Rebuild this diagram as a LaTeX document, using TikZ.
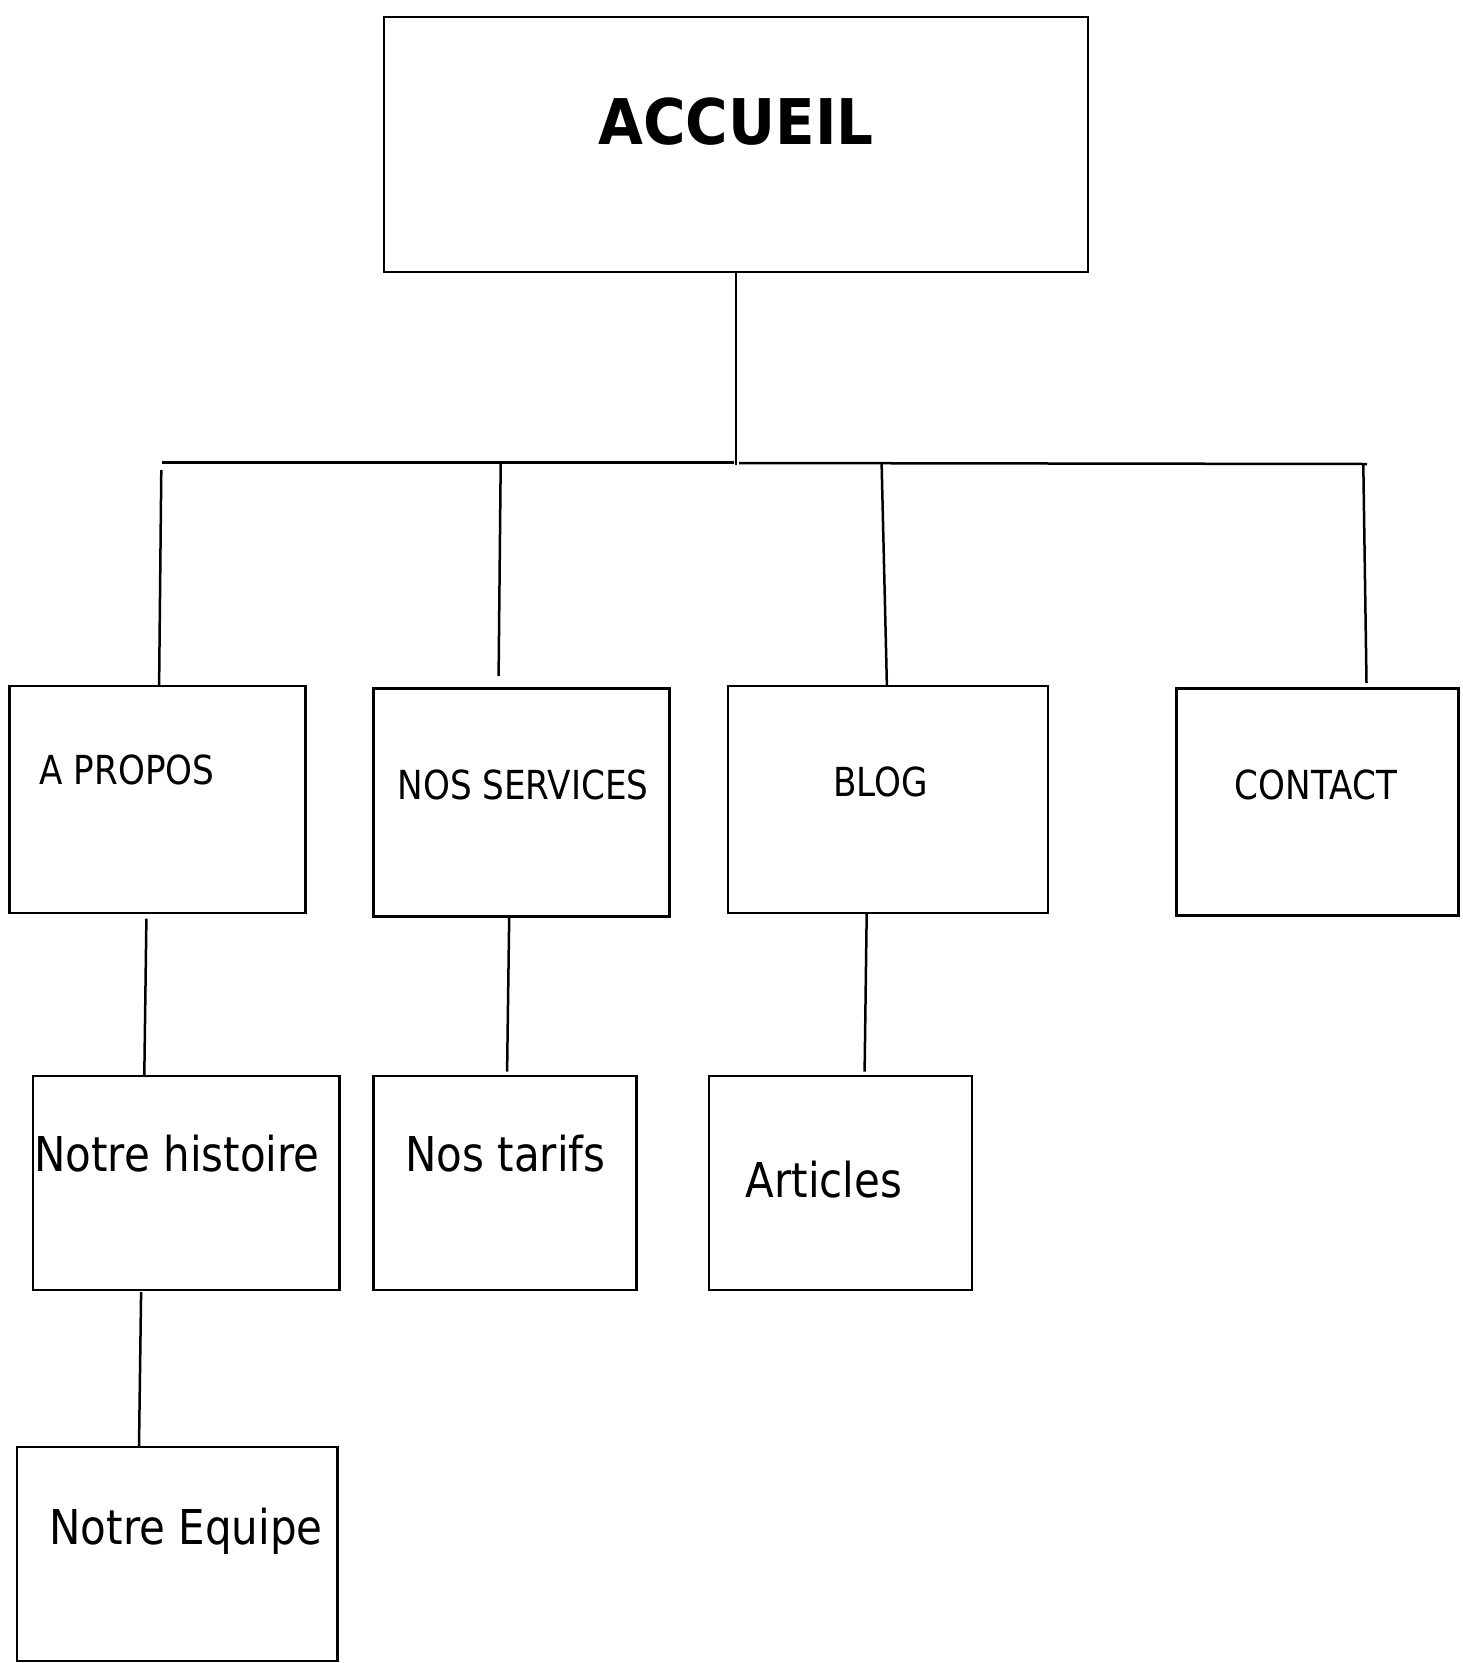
\documentclass[tikz,border=0pt]{standalone}
\usepackage{fontspec}
\usetikzlibrary{calc}
\newfontfamily\capsf[FakeStretch=0.855]{DejaVu Sans}
\newfontfamily\lowf[FakeStretch=0.875]{DejaVu Sans}
\newfontfamily\boldf[FakeStretch=0.92]{DejaVu Sans Bold}
\tikzset{
  box/.style={draw=black, line width=2.5pt, rectangle, inner sep=0pt, outer sep=0pt, anchor=north west},
  conn/.style={draw=black, line width=2.5pt},
  capslabel/.style={anchor=base, inner sep=0pt, font=\capsf\fontsize{40}{48}\selectfont},
  lowlabel/.style={anchor=base, inner sep=0pt, font=\lowf\fontsize{48}{56}\selectfont},
  titlelabel/.style={anchor=base, inner sep=0pt, font=\boldf\fontsize{63}{72}\selectfont},
}
\begin{document}
\begin{tikzpicture}[x=1pt, y=-1pt]
\useasboundingbox[fill=white] (0,0) rectangle (1463,1663);
% boxes
\node[box, minimum width=704pt, minimum height=255pt] (acc) at (384,17) {};
\node[box, minimum width=296pt, minimum height=227pt] (apropos) at (9.5,686) {};
\node[box, minimum width=296pt, minimum height=228pt] (services) at (373.5,688.5) {};
\node[box, minimum width=320pt, minimum height=227pt] (blog) at (728,686) {};
\node[box, minimum width=282pt, minimum height=227pt] (contact) at (1176.5,688.5) {};
\node[box, minimum width=306.5pt, minimum height=214pt] (hist) at (33,1076) {};
\node[box, minimum width=263pt, minimum height=214pt] (tarifs) at (373.5,1076) {};
\node[box, minimum width=263pt, minimum height=214pt] (articles) at (709,1076) {};
\node[box, minimum width=320.5pt, minimum height=214pt] (equipe) at (17,1447) {};
% labels
\node[titlelabel] (tacc) at (736,144) {ACCUEIL};
\node[capslabel] (tapropos) at (127,784) {A PROPOS};
\node[capslabel] (tservices) at (523,799) {NOS SERVICES};
\node[capslabel] (tblog) at (880.5,796) {BLOG};
\node[capslabel] (tcontact) at (1316,799) {CONTACT};
\node[lowlabel] (thist) at (177,1171) {Notre histoire};
\node[lowlabel] (ttarifs) at (505.5,1171) {Nos tarifs};
\node[lowlabel] (tarticles) at (824,1197) {Articles};
\node[lowlabel] (tequipe) at (186,1544) {Notre Equipe};
% bar coordinates
\coordinate (hub) at (736,465);
\coordinate (barL) at (162,462.5);
\coordinate (barLe) at (734,462.5);
\coordinate (barRs) at (739,463);
\coordinate (barR) at (1367,464);
\coordinate (dA) at (161.3,470);
\coordinate (dS) at (500.7,463);
\coordinate (dB) at (881.6,463);
\coordinate (dC) at (1363.3,464);
% connectors
\draw[conn] (acc.south) -- (hub);
\draw[conn] (barL) -- (barLe);
\draw[conn] (barRs) -- (barR);
\draw[conn] (dA) -- ($(apropos.north west)+(149.6,0)$);
\draw[conn] (dS) -- ($(services.north west)+(125.1,-12.5)$);
\draw[conn] (dB) -- ($(blog.north west)+(158.9,0)$);
\draw[conn] (dC) -- ($(contact.north west)+(190,-5.5)$);
\draw[conn] ($(apropos.south west)+(136.9,5.7)$) -- ($(hist.north west)+(111.3,0)$);
\draw[conn] ($(services.south west)+(135.7,0)$) -- ($(tarifs.north west)+(133.6,-4.5)$);
\draw[conn] ($(blog.south west)+(138.7,0)$) -- ($(articles.north west)+(155.6,-4.5)$);
\draw[conn] ($(hist.south west)+(108.1,2)$) -- ($(equipe.north west)+(122,0)$);
\end{tikzpicture}
\end{document}
